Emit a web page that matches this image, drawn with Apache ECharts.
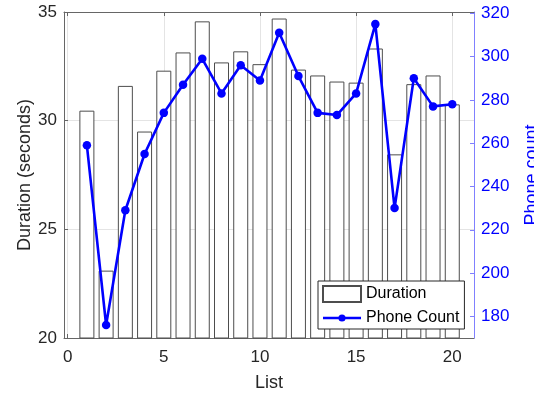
<!DOCTYPE html>
<html>
<head>
<meta charset="utf-8">
<script src="https://cdn.jsdelivr.net/npm/echarts@6/dist/echarts.min.js"></script>
<style>
  html, body { margin: 0; padding: 0; background: #fff; }
  #chart { width: 534px; height: 394px; }
</style>
</head>
<body>
<div id="chart"></div>
<script>
// List numbers along the x axis
const lists = [1, 2, 3, 4, 5, 6, 7, 8, 9, 10, 11, 12, 13, 14, 15, 16, 17, 18, 19, 20];
// Duration of each list, in seconds (left axis, bars)
const durations = [30.46, 23.1, 31.6, 29.5, 32.3, 33.14, 34.57, 32.68, 33.19, 32.6,
                   34.7, 32.35, 32.08, 31.8, 31.75, 33.32, 28.45, 31.68, 32.08, 30.75];
// Phone count of each list (right axis, line)
const phoneCounts = [259, 176, 229, 255, 274, 287, 299, 283, 296, 289,
                     311, 291, 274, 273, 283, 315, 230, 290, 277, 278];
// Tick labels
const xTicks = [0, 5, 10, 15, 20];
const durationTicks = [20, 25, 30, 35];
const phoneTicks = [180, 200, 220, 240, 260, 280, 300, 320];

const FONT = 'Liberation Sans';
const AX = '#262626';
const BLUE = '#0000ff';

// Legend glyph for the line series: a short stroke with a dot in the middle
const LINE_ICON = 'path://M0,6.7H38V9.3H0Z M22.6,8A3.6,3.6,0,1,1,15.4,8A3.6,3.6,0,1,1,22.6,8Z';

const barData = lists.map((x, i) => [x, durations[i]]);
const lineData = lists.map((x, i) => [x, phoneCounts[i]]);

const chart = echarts.init(document.getElementById('chart'), null, { renderer: 'canvas' });

const xCommon = {
  type: 'value',
  min: -0.19,
  max: 21.13,
  axisLine: { show: true, onZero: false, lineStyle: { color: '#666', width: 1 } },
  axisTick: { show: true, inside: true, length: 4, customValues: xTicks, lineStyle: { color: '#666' } },
  splitLine: { show: false }
};

chart.setOption({
  animation: false,
  backgroundColor: '#fff',
  textStyle: { fontFamily: FONT },
  grid: { left: 64, top: 12, width: 410, height: 326, containLabel: false, outerBoundsMode: 'none' },
  legend: {
    orient: 'vertical',
    left: 318,
    top: 281,
    padding: [4, 5, 3, 4],
    itemGap: 7,
    itemWidth: 38,
    itemHeight: 16,
    backgroundColor: '#fff',
    borderColor: AX,
    borderWidth: 1,
    borderRadius: 0,
    textStyle: { fontFamily: FONT, fontSize: 16, color: '#000' },
    data: [
      { name: 'Duration', icon: 'rect' },
      { name: 'Phone Count', icon: LINE_ICON, itemStyle: { color: BLUE, borderWidth: 0 } }
    ]
  },
  xAxis: [
    Object.assign({}, xCommon, {
      position: 'bottom',
      name: 'List',
      nameLocation: 'middle',
      nameGap: 36,
      nameMoveOverlap: false,
      nameTextStyle: { fontFamily: FONT, fontSize: 18, color: AX },
      axisLabel: { show: true, customValues: xTicks, margin: 11, fontFamily: FONT, fontSize: 17, color: AX },
      splitLine: { show: true, lineStyle: { color: '#e4e4e4', width: 1 } }
    }),
    Object.assign({}, xCommon, {
      position: 'top',
      axisLabel: { show: false }
    })
  ],
  yAxis: [
    {
      type: 'value',
      position: 'left',
      min: 20,
      max: 35,
      interval: 5,
      name: 'Duration (seconds)',
      nameLocation: 'middle',
      nameRotate: 90,
      nameGap: 30,
      nameMoveOverlap: false,
      nameTextStyle: { fontFamily: FONT, fontSize: 18, color: AX },
      axisLine: { show: true, onZero: false, lineStyle: { color: '#666', width: 1 } },
      axisTick: { show: true, inside: true, length: 4, lineStyle: { color: '#666' } },
      axisLabel: { margin: 7, fontFamily: FONT, fontSize: 17, color: AX },
      splitLine: { show: true, lineStyle: { color: '#e4e4e4', width: 1 } }
    },
    {
      type: 'value',
      position: 'right',
      min: 170,
      max: 320.6,
      name: 'Phone count',
      nameLocation: 'middle',
      nameRotate: 90,
      nameGap: 49,
      nameMoveOverlap: false,
      nameTextStyle: { fontFamily: FONT, fontSize: 18, color: BLUE },
      axisLine: { show: true, onZero: false, lineStyle: { color: '#8080ff', width: 1 } },
      axisTick: { show: true, inside: true, length: 4, customValues: phoneTicks, lineStyle: { color: '#8080ff' } },
      axisLabel: { customValues: phoneTicks, margin: 7, fontFamily: FONT, fontSize: 17, color: BLUE },
      splitLine: { show: false }
    }
  ],
  series: [
    {
      name: 'Duration',
      type: 'bar',
      xAxisIndex: 0,
      yAxisIndex: 0,
      data: barData,
      barWidth: 15,
      itemStyle: { color: '#ffffff', borderColor: '#4d4d4d', borderWidth: 1 },
      z: 2
    },
    {
      name: 'Phone Count',
      type: 'line',
      xAxisIndex: 0,
      yAxisIndex: 1,
      data: lineData,
      symbol: 'circle',
      symbolSize: 8.5,
      lineStyle: { color: BLUE, width: 2.6 },
      itemStyle: { color: BLUE },
      z: 3
    }
  ]
});
</script>
</body>
</html>
